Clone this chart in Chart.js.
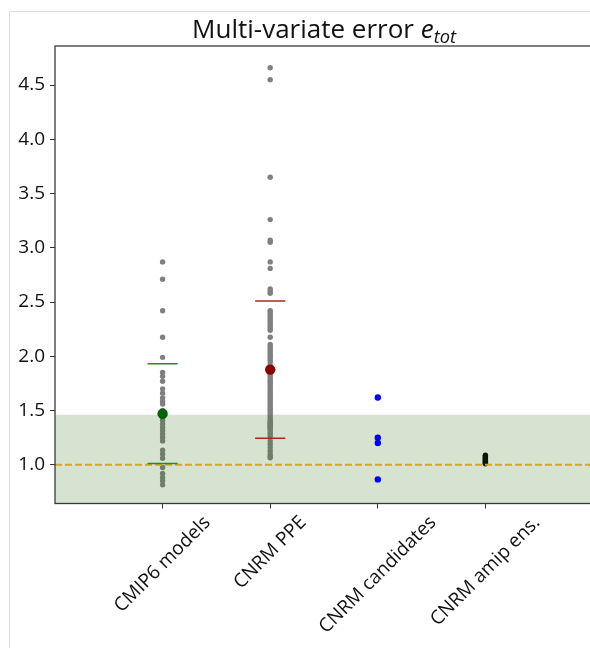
<!DOCTYPE html>
<html>
<head>
<meta charset="utf-8">
<script src="https://cdn.jsdelivr.net/npm/chart.js"></script>
<style>
    body { margin: 0; background: #fff; overflow: hidden; width: 590px; height: 648px; position: relative; }
    #frame { position: absolute; left: 9px; top: 11px; width: 700px; height: 700px; border-left: 1px solid #dcdcdc; border-top: 1px solid #dcdcdc; }
    #title { position: absolute; left: 55px; width: 538px; top: 13px; text-align: center; font-family: "Open Sans", sans-serif; font-size: 26px; line-height: 30px; color: #111; white-space: nowrap; }
    #title sub { font-size: 0.7em; vertical-align: -0.3em; line-height: 0; }
    #chart { position: absolute; left: 0; top: 0; }
</style>
</head>
<body>
<div id="frame"></div>
<canvas id="chart" width="600" height="648"></canvas>
<div id="title">Multi-variate error <i>e</i><sub><i>tot</i></sub></div>
<script>
// categories on the x axis
const categories = ["CMIP6 models", "CNRM PPE", "CNRM candidates", "CNRM amip ens."];

// e_tot values
const cmip6Errors = [2.87, 2.71, 2.42, 2.175, 1.99, 1.85, 1.815, 1.77, 1.70, 1.66, 1.615, 1.585, 1.56,
    1.50, 1.45, 1.41, 1.376, 1.344, 1.314, 1.283, 1.252, 1.22, 1.135, 1.10, 1.06,
    0.975, 0.92, 0.883, 0.852, 0.815];
const ppeErrors = [4.66, 4.55, 3.65, 3.26, 3.07, 3.05, 2.87, 2.81, 2.62, 2.60, 2.58,
    2.42, 2.40, 2.38, 2.36, 2.34, 2.32, 2.30, 2.28, 2.26, 2.24, 2.175, 2.11, 2.09, 2.07, 2.05, 2.03, 2.01,
    1.99, 1.97, 1.95, 1.92, 1.90, 1.86, 1.84, 1.82, 1.80, 1.78, 1.76, 1.74, 1.72, 1.70, 1.68, 1.66,
    1.64, 1.62, 1.60, 1.58, 1.56, 1.54, 1.52, 1.50,
    1.48, 1.46, 1.44, 1.42, 1.40, 1.39, 1.38, 1.37, 1.36, 1.35, 1.34, 1.33, 1.32, 1.30, 1.28, 1.26,
    1.22, 1.19, 1.16, 1.13, 1.10, 1.08, 1.065];
const candidateErrors = [1.62, 1.25, 1.20, 0.865];
const amipErrors = [1.088, 1.08, 1.072, 1.064, 1.056, 1.048, 1.04, 1.032, 1.024, 1.016, 1.01];

// summary marks: mean dot and upper / lower lines
const cmip6Mean = 1.47;
const cmip6Bounds = [1.93, 1.012];
const ppeMean = 1.877;
const ppeBounds = [2.51, 1.245];

// reference level and shaded band top
const refLevel = 1.0;
const bandTop = 1.46;

const yTicks = [1.0, 1.5, 2.0, 2.5, 3.0, 3.5, 4.0, 4.5];
const xRange = [-1, 4];
const yRange = [0.643, 4.86];

const barHalf = 0.14;
const tickFont = { family: "'Open Sans', sans-serif", size: 19 };

const toPoints = (vals, i) => vals.map(v => ({ x: i, y: v }));
const hline = (y, x0, x1) => [{ x: x0, y }, { x: x1, y }];

const boundLine = (y, i, color) => ({
    data: hline(y, i - barHalf, i + barHalf),
    showLine: true,
    borderColor: color,
    borderWidth: 1.5,
    pointRadius: 0,
    order: 2,
});

// frame around the plot area (all four sides)
const framePlugin = {
    id: "frame",
    afterDatasetsDraw(chart) {
        const { ctx, chartArea: a } = chart;
        ctx.save();
        ctx.strokeStyle = "#3a3a3a";
        ctx.lineWidth = 1.3;
        ctx.strokeRect(a.left, a.top, a.right - a.left, a.bottom - a.top);
        ctx.restore();
    },
};

// x labels rotated 45 deg, centred under the tick like matplotlib
const xLabelPlugin = {
    id: "xlabels",
    afterDraw(chart) {
        const { ctx, chartArea } = chart;
        const xs = chart.scales.x;
        ctx.save();
        ctx.font = `${tickFont.size}px ${tickFont.family}`;
        ctx.fillStyle = "#111";
        ctx.textAlign = "center";
        ctx.textBaseline = "middle";
        categories.forEach((label, i) => {
            const w = ctx.measureText(label).width;
            const half = (w + 20) / (2 * Math.SQRT2);
            ctx.setTransform(1, 0, 0, 1, xs.getPixelForValue(i), chartArea.bottom + 9 + half);
            ctx.rotate(-Math.PI / 4);
            ctx.fillText(label, 0, 0);
        });
        ctx.restore();
    },
};

const datasets = [
    {
        data: toPoints(cmip6Errors, 0).concat(toPoints(ppeErrors, 1)),
        pointRadius: 2.7,
        pointBackgroundColor: "#808080",
        pointBorderWidth: 0,
        order: 6,
    },
    {
        data: toPoints(amipErrors, 3),
        pointRadius: 2.7,
        pointBackgroundColor: "#000",
        pointBorderWidth: 0,
        order: 6,
    },
    {
        data: hline(bandTop, xRange[0], xRange[1]),
        showLine: true,
        fill: "start",
        backgroundColor: "rgba(50, 115, 20, 0.2)",
        borderWidth: 0,
        pointRadius: 0,
        order: 5,
    },
    {
        data: hline(refLevel, xRange[0], xRange[1]),
        showLine: true,
        borderColor: "#DAA520",
        borderWidth: 2,
        borderDash: [7, 3],
        pointRadius: 0,
        order: 4,
    },
    {
        data: toPoints(candidateErrors, 2),
        pointRadius: 3.2,
        pointBackgroundColor: "#0000ff",
        pointBorderWidth: 0,
        order: 3,
    },
    boundLine(cmip6Bounds[0], 0, "#228B22"),
    boundLine(cmip6Bounds[1], 0, "#228B22"),
    boundLine(ppeBounds[0], 1, "#b22222"),
    boundLine(ppeBounds[1], 1, "#b22222"),
    {
        data: [{ x: 0, y: cmip6Mean }],
        pointRadius: 5.2,
        pointBackgroundColor: "#006400",
        pointBorderWidth: 0,
        order: 1,
    },
    {
        data: [{ x: 1, y: ppeMean }],
        pointRadius: 5.2,
        pointBackgroundColor: "#8B0000",
        pointBorderWidth: 0,
        order: 1,
    },
];

new Chart(document.getElementById("chart"), {
    type: "scatter",
    data: { datasets },
    plugins: [framePlugin, xLabelPlugin],
    options: {
        responsive: false,
        animation: false,
        devicePixelRatio: 1,
        layout: { padding: { top: 46, right: 7, left: 0, bottom: 0 } },
        plugins: {
            legend: { display: false },
            tooltip: { enabled: false },
        },
        scales: {
            x: {
                type: "linear",
                min: xRange[0],
                max: xRange[1],
                afterBuildTicks: scale => { scale.ticks = categories.map((c, i) => ({ value: i })); },
                afterFit: scale => { scale.height = 144.5; },
                ticks: { display: false },
                grid: { drawOnChartArea: false, drawTicks: true, tickLength: 5, color: "#333" },
                border: { display: false },
            },
            y: {
                min: yRange[0],
                max: yRange[1],
                afterBuildTicks: scale => { scale.ticks = yTicks.map(v => ({ value: v })); },
                afterFit: scale => { scale.width = 55; },
                ticks: {
                    font: tickFont,
                    color: "#111",
                    padding: 5,
                    callback: v => v.toFixed(1),
                },
                grid: { drawOnChartArea: false, drawTicks: true, tickLength: 5, color: "#333" },
                border: { display: false },
            },
        },
    },
});
</script>
</body>
</html>
